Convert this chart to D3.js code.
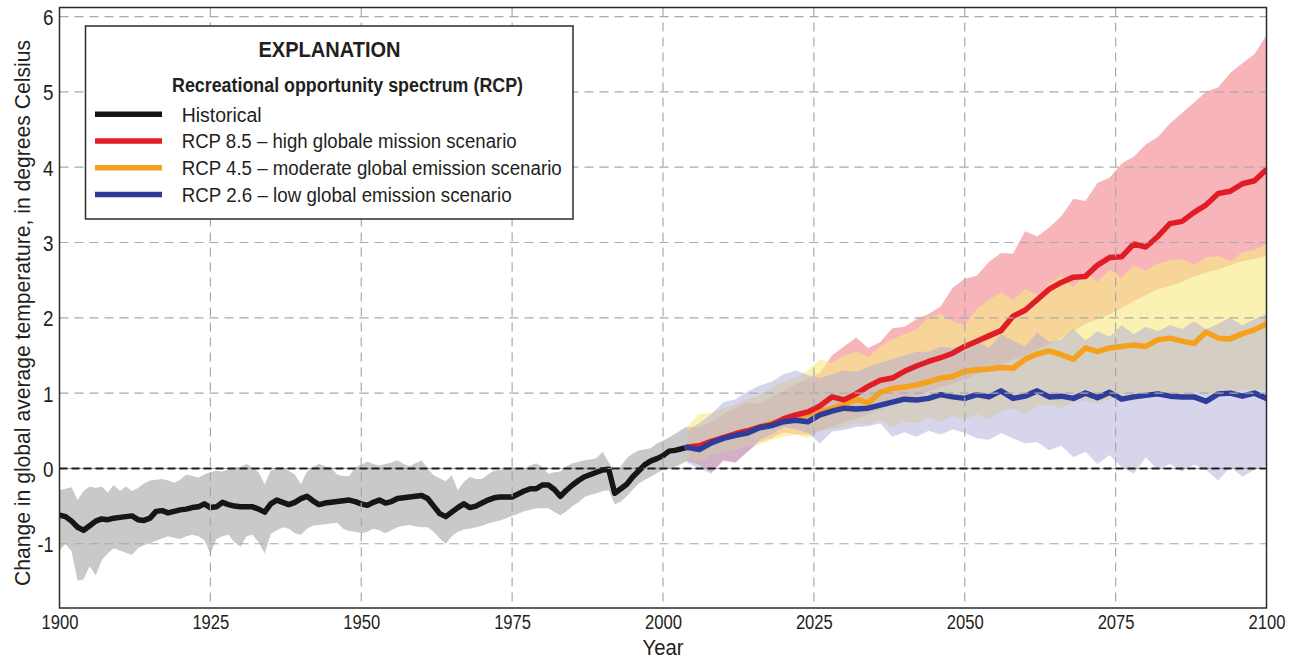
<!DOCTYPE html>
<html>
<head>
<meta charset="utf-8">
<script src="https://cdn.jsdelivr.net/npm/d3@7"></script>
<style>
  html, body { margin: 0; padding: 0; background: #fff; }
  svg { display: block; }
  text { font-family: "Liberation Sans Narrow", "Arial Narrow", "Liberation Sans", sans-serif; fill: #231f20; }
</style>
</head>
<body>
<svg id="chart" width="1292" height="661"></svg>
<script>
// ---- Historical record, 1900–2004 (°C change) ----
const histYears = [
  1900,1901,1902,1903,1904,1905,1906,1907,1908,1909,
  1910,1911,1912,1913,1914,1915,1916,1917,1918,1919,
  1920,1921,1922,1923,1924,1925,1926,1927,1928,1929,
  1930,1931,1932,1933,1934,1935,1936,1937,1938,1939,
  1940,1941,1942,1943,1944,1945,1946,1947,1948,1949,
  1950,1951,1952,1953,1954,1955,1956,1957,1958,1959,
  1960,1961,1962,1963,1964,1965,1966,1967,1968,1969,
  1970,1971,1972,1973,1974,1975,1976,1977,1978,1979,
  1980,1981,1982,1983,1984,1985,1986,1987,1988,1989,
  1990,1991,1992,1993,1994,1995,1996,1997,1998,1999,
  2000,2001,2002,2003,2004
];
const histMean = [
  -0.62,-0.64,-0.70,-0.78,-0.82,-0.76,-0.70,-0.67,-0.68,-0.66,
  -0.65,-0.64,-0.63,-0.68,-0.69,-0.66,-0.57,-0.56,-0.59,-0.57,
  -0.55,-0.54,-0.52,-0.51,-0.47,-0.52,-0.51,-0.45,-0.48,-0.50,
  -0.51,-0.51,-0.51,-0.54,-0.58,-0.47,-0.42,-0.45,-0.48,-0.45,
  -0.40,-0.37,-0.43,-0.48,-0.46,-0.45,-0.44,-0.43,-0.42,-0.44,
  -0.47,-0.49,-0.45,-0.42,-0.46,-0.44,-0.40,-0.39,-0.38,-0.37,
  -0.36,-0.40,-0.50,-0.60,-0.64,-0.58,-0.52,-0.47,-0.52,-0.50,
  -0.46,-0.42,-0.39,-0.38,-0.38,-0.38,-0.34,-0.30,-0.27,-0.27,
  -0.22,-0.22,-0.28,-0.37,-0.29,-0.22,-0.16,-0.11,-0.08,-0.05,
  -0.02,-0.01,-0.33,-0.27,-0.21,-0.11,-0.03,0.05,0.10,0.13,
  0.17,0.23,0.24,0.26,0.28
];
const histUpper = [
  -0.29,-0.27,-0.25,-0.42,-0.30,-0.24,-0.26,-0.24,-0.32,-0.22,
  -0.30,-0.24,-0.30,-0.26,-0.20,-0.16,-0.15,-0.14,-0.16,-0.19,
  -0.15,-0.08,-0.10,-0.12,-0.08,-0.05,-0.03,-0.04,-0.01,0.01,
  0.02,0.06,0.01,-0.05,-0.21,-0.03,0.01,0.02,-0.03,-0.08,
  -0.21,-0.04,0.02,0.06,0.03,0.01,-0.08,-0.10,-0.10,0.02,
  0.05,0.09,0.06,0.04,0.06,0.08,0.11,0.06,0.03,0.07,
  0.11,0.00,-0.09,-0.13,-0.17,-0.09,-0.29,-0.18,-0.11,-0.14,
  -0.14,-0.08,-0.03,-0.02,0.00,0.02,0.00,0.00,0.04,0.07,
  0.02,-0.07,-0.05,-0.04,0.03,0.07,0.09,0.11,0.12,0.14,
  0.22,0.08,-0.02,0.03,0.14,0.20,0.24,0.25,0.27,0.33,
  0.37,0.41,0.46,0.51,0.56
];
const histLower = [
  -1.09,-1.00,-1.10,-1.49,-1.47,-1.30,-1.42,-1.22,-1.13,-1.06,
  -1.09,-1.12,-1.15,-1.06,-1.02,-0.99,-0.96,-0.93,-0.90,-0.92,
  -0.94,-0.90,-0.88,-0.90,-0.95,-1.13,-0.94,-0.90,-0.88,-0.98,
  -1.04,-0.90,-0.88,-0.98,-1.13,-0.87,-0.82,-0.78,-0.80,-0.86,
  -0.88,-0.80,-0.76,-0.75,-0.74,-0.73,-0.72,-0.80,-0.83,-0.84,
  -0.86,-0.84,-0.80,-0.82,-0.86,-0.82,-0.78,-0.76,-0.75,-0.77,
  -0.78,-0.78,-0.84,-0.93,-1.00,-0.90,-0.84,-0.81,-0.80,-0.78,
  -0.76,-0.73,-0.71,-0.69,-0.66,-0.63,-0.60,-0.57,-0.55,-0.53,
  -0.53,-0.53,-0.58,-0.62,-0.57,-0.50,-0.45,-0.38,-0.35,-0.33,
  -0.30,-0.29,-0.48,-0.44,-0.37,-0.28,-0.20,-0.15,-0.11,-0.06,
  -0.02,0.00,0.02,0.06,0.10
];

// ---- Scenario projections, 2004–2100 every 2 years (°C change) ----
const projYears = [
  2004,2006,2008,2010,2012,2014,2016,2018,2020,2022,
  2024,2026,2028,2030,2032,2034,2036,2038,2040,2042,
  2044,2046,2048,2050,2052,2054,2056,2058,2060,2062,
  2064,2066,2068,2070,2072,2074,2076,2078,2080,2082,
  2084,2086,2088,2090,2092,2094,2096,2098,2100
];
const rcp85Mean = [
  0.28,0.30,0.36,0.41,0.46,0.50,0.55,0.58,0.66,0.71,
  0.75,0.83,0.95,0.91,0.99,1.09,1.17,1.20,1.29,1.36,
  1.42,1.47,1.53,1.62,1.69,1.76,1.83,2.02,2.10,2.24,
  2.38,2.47,2.54,2.55,2.70,2.80,2.81,2.98,2.94,3.08,
  3.25,3.28,3.40,3.50,3.65,3.68,3.78,3.82,3.97
];
const rcp85Upper = [
  0.55,0.55,0.62,0.72,0.80,0.88,0.86,0.95,1.02,1.12,
  1.18,1.27,1.50,1.62,1.74,1.60,1.68,1.86,1.88,1.98,
  2.05,2.15,2.40,2.52,2.56,2.74,2.86,2.85,3.15,3.08,
  3.20,3.35,3.58,3.55,3.79,3.86,4.05,4.14,4.30,4.40,
  4.58,4.72,4.86,5.00,5.06,5.25,5.38,5.50,5.75
];
const rcp85Lower = [
  0.10,0.05,-0.05,0.10,0.08,0.22,0.35,0.40,0.48,0.45,
  0.45,0.50,0.55,0.62,0.66,0.72,0.78,0.85,0.90,0.95,
  1.02,1.08,1.12,1.18,1.25,1.30,1.38,1.45,1.50,1.58,
  1.65,1.74,1.82,1.92,1.98,2.05,2.13,2.22,2.30,2.38,
  2.42,2.48,2.55,2.60,2.64,2.70,2.75,2.78,2.82
];
const rcp45Mean = [
  0.28,0.30,0.36,0.41,0.46,0.50,0.55,0.60,0.64,0.68,
  0.72,0.75,0.80,0.85,0.92,0.87,1.01,1.06,1.08,1.11,
  1.15,1.20,1.22,1.29,1.31,1.32,1.34,1.33,1.45,1.52,
  1.56,1.51,1.45,1.60,1.55,1.60,1.62,1.64,1.62,1.71,
  1.73,1.69,1.66,1.81,1.73,1.72,1.79,1.84,1.92
];
const rcp45Upper = [
  0.55,0.72,0.74,0.80,0.85,0.92,0.98,1.08,1.15,1.20,
  1.30,1.45,1.40,1.50,1.55,1.48,1.62,1.72,1.78,1.85,
  2.00,2.05,1.95,1.90,2.12,2.24,2.34,2.24,2.38,2.30,
  2.45,2.56,2.40,2.60,2.48,2.64,2.53,2.70,2.62,2.72,
  2.76,2.78,2.70,2.80,2.82,2.75,2.87,2.90,2.98
];
const rcp45Lower = [
  0.12,0.10,0.18,0.22,0.25,0.30,0.32,0.38,0.42,0.45,
  0.40,0.50,0.52,0.55,0.60,0.58,0.65,0.55,0.62,0.60,
  0.68,0.62,0.70,0.65,0.72,0.66,0.75,0.80,0.72,0.82,
  0.85,0.80,0.88,0.90,0.86,0.92,0.95,0.90,0.98,0.95,
  1.00,0.98,1.02,0.96,1.03,1.00,1.05,1.02,1.05
];
const rcp26Mean = [
  0.28,0.25,0.34,0.40,0.44,0.47,0.54,0.57,0.62,0.64,
  0.62,0.71,0.76,0.80,0.79,0.80,0.84,0.88,0.92,0.91,
  0.93,0.98,0.95,0.93,0.98,0.95,1.03,0.93,0.96,1.03,
  0.95,0.96,0.93,1.00,0.94,1.01,0.92,0.95,0.97,0.99,
  0.96,0.95,0.95,0.89,0.99,1.00,0.96,1.00,0.93
];
const rcp26Upper = [
  0.50,0.60,0.72,0.88,0.92,1.02,1.10,1.15,1.25,1.30,
  1.24,1.20,1.25,1.30,1.28,1.35,1.40,1.45,1.50,1.55,
  1.55,1.62,1.60,1.65,1.70,1.60,1.78,1.70,1.62,1.80,
  1.68,1.72,1.85,1.70,1.82,1.75,1.90,1.78,1.88,1.82,
  1.90,1.85,1.95,1.85,1.92,2.00,1.90,1.98,2.05
];
const rcp26Lower = [
  0.08,0.00,-0.07,0.12,0.08,0.22,0.38,0.45,0.55,0.52,
  0.47,0.33,0.49,0.51,0.55,0.56,0.60,0.42,0.48,0.42,
  0.50,0.45,0.52,0.47,0.40,0.38,0.47,0.40,0.33,0.35,
  0.24,0.30,0.15,0.22,0.06,0.18,0.02,-0.07,0.15,-0.02,
  0.06,-0.04,0.05,-0.02,-0.16,0.02,-0.11,-0.02,0.04
];

// ---- Axis ticks and text ----
const xTicks = [1900, 1925, 1950, 1975, 2000, 2025, 2050, 2075, 2100];
const yTicks = [-1, 0, 1, 2, 3, 4, 5, 6];
const legendTitle = "EXPLANATION";
const legendSubtitle = "Recreational opportunity spectrum (RCP)";
const legendLabels = [
  "Historical",
  "RCP 8.5 \u2013 high globale mission scenario",
  "RCP 4.5 \u2013 moderate global emission scenario",
  "RCP 2.6 \u2013 low global emission scenario"
];
const xTitle = "Year";
const yTitle = "Change in global average temperature, in degrees Celsius";

// ---- Layout ----
const svg = d3.select("#chart");
const plot = { left: 59.5, right: 1266.5, top: 7.5, bottom: 608 };
const x = d3.scaleLinear().domain([1900, 2100]).range([plot.left, plot.right]);
const y = d3.scaleLinear().domain([-1.853, 6.12]).range([plot.bottom, plot.top]);

const colors = {
  hist: "#141414", histBand: "#c9c9c9",
  rcp85: "#e11f26", rcp85Band: "#ef6b73",
  rcp45: "#f6a11b", rcp45Band: "#f7e885",
  rcp26: "#2d3c9b", rcp26Band: "#aeacd8"
};

const defs = svg.append("defs");
defs.append("clipPath").attr("id", "plotClip").append("rect")
  .attr("x", plot.left).attr("y", plot.top)
  .attr("width", plot.right - plot.left).attr("height", plot.bottom - plot.top);
defs.append("filter").attr("id", "soft").attr("x", "-5%").attr("y", "-5%").attr("width", "110%").attr("height", "110%")
  .append("feGaussianBlur").attr("stdDeviation", 0.55);

const body = svg.append("g").attr("clip-path", "url(#plotClip)");

function bandData(years, lo, hi) { return years.map((yr, i) => ({ yr, lo: lo[i], hi: hi[i] })); }
function lineData(years, v) { return years.map((yr, i) => ({ yr, v: v[i] })); }

const area = d3.area().x(d => x(d.yr)).y0(d => y(d.lo)).y1(d => y(d.hi)).curve(d3.curveLinear);
const line = d3.line().x(d => x(d.yr)).y(d => y(d.v)).curve(d3.curveLinear);

// Uncertainty ranges
body.append("path").datum(bandData(histYears, histLower, histUpper))
  .attr("d", area).attr("fill", colors.histBand);
body.append("path").datum(bandData(projYears, rcp85Lower, rcp85Upper))
  .attr("d", area).attr("fill", colors.rcp85Band).attr("fill-opacity", 0.5);
body.append("path").datum(bandData(projYears, rcp45Lower, rcp45Upper))
  .attr("d", area).attr("fill", colors.rcp45Band).attr("fill-opacity", 0.62);
body.append("path").datum(bandData(projYears, rcp26Lower, rcp26Upper))
  .attr("d", area).attr("fill", colors.rcp26Band).attr("fill-opacity", 0.5);

// Dashed grid
const grid = svg.append("g");
grid.selectAll("line.vx").data(xTicks.slice(1, -1)).join("line")
  .attr("x1", d => x(d)).attr("x2", d => x(d))
  .attr("y1", plot.top).attr("y2", plot.bottom)
  .attr("stroke", "#a9a9a9").attr("stroke-width", 1.2).attr("stroke-dasharray", "9,6");
grid.selectAll("line.hy").data(yTicks.filter(v => v !== 0)).join("line")
  .attr("x1", plot.left).attr("x2", plot.right)
  .attr("y1", d => y(d)).attr("y2", d => y(d))
  .attr("stroke", "#a9a9a9").attr("stroke-width", 1.2).attr("stroke-dasharray", "9,6");
// Zero reference
grid.append("line")
  .attr("x1", plot.left).attr("x2", plot.right).attr("y1", y(0)).attr("y2", y(0))
  .attr("stroke", "#9a9a9a").attr("stroke-width", 1);
grid.append("line")
  .attr("x1", plot.left).attr("x2", plot.right).attr("y1", y(0)).attr("y2", y(0))
  .attr("stroke", "#1e1e1e").attr("stroke-width", 2).attr("stroke-dasharray", "8,4");

// Mean lines
const lines = body.append("g").attr("filter", "url(#soft)")
  .attr("fill", "none").attr("stroke-width", 5.5).attr("stroke-linejoin", "round").attr("stroke-linecap", "round");
lines.append("path").datum(lineData(histYears, histMean)).attr("d", line).attr("stroke", colors.hist);
lines.append("path").datum(lineData(projYears, rcp45Mean)).attr("d", line).attr("stroke", colors.rcp45);
lines.append("path").datum(lineData(projYears, rcp85Mean)).attr("d", line).attr("stroke", colors.rcp85);
lines.append("path").datum(lineData(projYears, rcp26Mean)).attr("d", line).attr("stroke", colors.rcp26);

// Frame
svg.append("rect").attr("x", plot.left).attr("y", plot.top)
  .attr("width", plot.right - plot.left).attr("height", plot.bottom - plot.top)
  .attr("fill", "none").attr("stroke", "#2b2b2b").attr("stroke-width", 1.5);

// Axes (labels only, set in a condensed style)
const lastYear = xTicks[xTicks.length - 1];
const xAxis = svg.append("g").attr("transform", `translate(0,${plot.bottom})`)
  .call(d3.axisBottom(x).tickValues(xTicks).tickFormat(d3.format("d")).tickSize(0).tickPadding(0));
xAxis.select(".domain").remove();
xAxis.selectAll("text").attr("y", 21).attr("dy", 0)
  .style("font-size", "20px").style("font-family", null).attr("fill", "#231f20")
  .attr("textLength", 37).attr("lengthAdjust", "spacingAndGlyphs");
// the right-most year label ends at the same spot, but is anchored at its end so it stays on the page
xAxis.selectAll(".tick").filter(d => d === lastYear).select("text")
  .attr("text-anchor", "end").attr("x", 18.5);

const yAxis = svg.append("g").attr("transform", `translate(${plot.left},0)`)
  .call(d3.axisLeft(y).tickValues(yTicks).tickFormat(d3.format("d")).tickSize(0).tickPadding(0));
yAxis.select(".domain").remove();
yAxis.selectAll("text").attr("x", -6).attr("dy", "0.36em")
  .style("font-size", "22px").style("font-family", null).attr("fill", "#231f20")
  .text(d => d < 0 ? "-" + Math.abs(d) : d)
  .attr("textLength", d => d < 0 ? 16 : 10.5).attr("lengthAdjust", "spacingAndGlyphs");

svg.append("text").attr("x", x(2000)).attr("y", 655).attr("text-anchor", "middle")
  .style("font-size", "22px").attr("textLength", 41).attr("lengthAdjust", "spacingAndGlyphs").text(xTitle);
svg.append("text").attr("transform", "translate(30,313) rotate(-90)").attr("text-anchor", "middle")
  .style("font-size", "22px").attr("textLength", 546).attr("lengthAdjust", "spacingAndGlyphs").text(yTitle);

// Legend
const lg = svg.append("g");
lg.append("rect").attr("x", 85.5).attr("y", 26).attr("width", 487.5).attr("height", 193)
  .attr("fill", "#fff").attr("stroke", "#2b2b2b").attr("stroke-width", 1.5);
lg.append("text").attr("x", 329.5).attr("y", 56.7).attr("text-anchor", "middle")
  .style("font-size", "22px").style("font-weight", "bold")
  .attr("textLength", 142).attr("lengthAdjust", "spacingAndGlyphs").text(legendTitle);
lg.append("text").attr("x", 172).attr("y", 91.7)
  .style("font-size", "19.5px").style("font-weight", "bold")
  .attr("textLength", 351).attr("lengthAdjust", "spacingAndGlyphs").text(legendSubtitle);
const legendColors = [colors.hist, colors.rcp85, colors.rcp45, colors.rcp26];
const legendWidths = [80, 335, 380, 330];
legendLabels.forEach((lab, i) => {
  const yy = 114.3 + i * 26.7;
  lg.append("line").attr("x1", 95).attr("x2", 162).attr("y1", yy).attr("y2", yy)
    .attr("stroke", legendColors[i]).attr("stroke-width", 5.5);
  lg.append("text").attr("x", 181.7).attr("y", yy + 7.4)
    .style("font-size", "19.5px")
    .attr("textLength", legendWidths[i]).attr("lengthAdjust", "spacingAndGlyphs").text(lab);
});
</script>
</body>
</html>
